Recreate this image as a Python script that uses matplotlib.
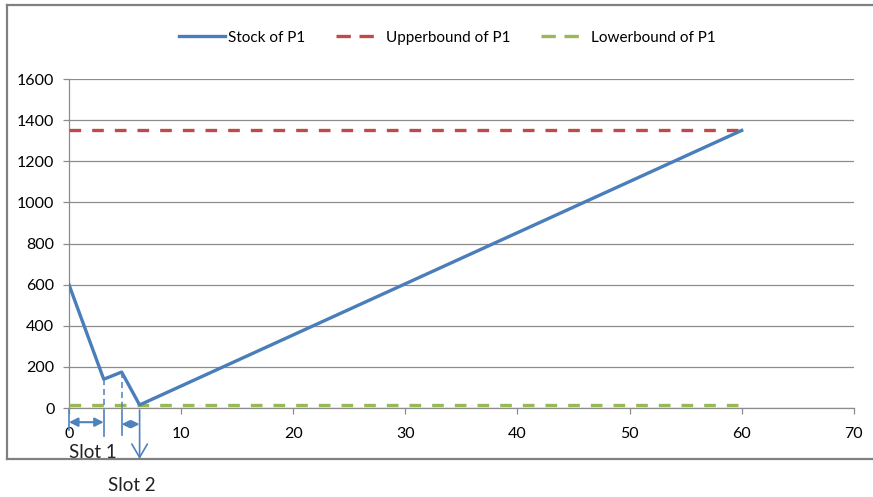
import matplotlib
matplotlib.use("Agg")
import matplotlib.pyplot as plt
from matplotlib.lines import Line2D

plt.rcParams["font.family"] = ["Lato", "DejaVu Sans"]

# data
stock_x = [0, 3.1, 4.7, 6.3, 60]
stock_y = [600, 140, 175, 15, 1350]
bound_x = [0, 60]
upper_y = [1350, 1350]
lower_y = [15, 15]
x_ticks = [0, 10, 20, 30, 40, 50, 60, 70]
y_ticks = [0, 200, 400, 600, 800, 1000, 1200, 1400, 1600]
series_labels = ["Stock of P1", "Upperbound of P1", "Lowerbound of P1"]
slot_labels = ["Slot 1", "Slot 2"]

BLUE = "#4A7EBB"
RED = "#BE4B48"
GREEN = "#98B954"
GRID = "#8C8C8C"
ANNO = "#4F81BD"

fig = plt.figure(figsize=(8.73, 4.97), dpi=100)
ax = fig.add_axes([0.079, 0.179, 0.899, 0.662])

ax.plot(stock_x, stock_y, color=BLUE, lw=2.4, solid_joinstyle="round", zorder=4)
ax.plot(bound_x, upper_y, color=RED, lw=2.4, dashes=(3.5, 3.3), zorder=3)
ax.plot(bound_x, lower_y, color=GREEN, lw=2.4, dashes=(3.5, 3.3), zorder=3)

ax.set_xlim(0, 70)
ax.set_ylim(0, 1600)
ax.set_xticks(x_ticks)
ax.set_yticks(y_ticks)
ax.grid(axis="y", color=GRID, lw=0.9)
ax.set_axisbelow(True)
for side in ("top", "right"):
    ax.spines[side].set_visible(False)
for side in ("left", "bottom"):
    ax.spines[side].set_color(GRID)
    ax.spines[side].set_linewidth(0.9)
ax.tick_params(axis="x", length=4.5, width=0.9, color=GRID, pad=9, labelsize=11.5)
ax.tick_params(axis="y", length=4.5, width=0.9, color=GRID, pad=6, labelsize=11.5)

# legend handles drawn like the spreadsheet legend: two long dashes
handles = [
    Line2D([], [], color=BLUE, lw=2.4),
    Line2D([], [], color=RED, lw=2.4, dashes=(4.3, 2.6)),
    Line2D([], [], color=GREEN, lw=2.4, dashes=(4.3, 2.6)),
]
ax.legend(handles, series_labels, loc="center", bbox_to_anchor=(0.512, 0.924),
          bbox_transform=fig.transFigure, ncol=3, frameon=False, fontsize=11,
          handlelength=3.0, handletextpad=0.25, columnspacing=2.0)

# slot annotations below the axis
xt = ax.get_xaxis_transform()
for x, y in zip(stock_x[1:3], stock_y[1:3]):
    ax.plot([x, x], [y, 0], color=ANNO, lw=1.1, dashes=(4, 2.5), zorder=5)
for x, bottom in zip(stock_x[:3], [-0.066, -0.085, -0.083]):
    ax.plot([x, x], [-0.006, bottom], transform=xt, color=ANNO, lw=1.2, clip_on=False)

ax.annotate("", xy=(stock_x[1], -0.043), xytext=(stock_x[0], -0.043), xycoords=xt,
            textcoords=xt, annotation_clip=False,
            arrowprops=dict(arrowstyle="<|-|>", color=ANNO, lw=1.5, shrinkA=0, shrinkB=0,
                            mutation_scale=13))
ax.annotate("", xy=(stock_x[3], -0.049), xytext=(stock_x[2], -0.049), xycoords=xt,
            textcoords=xt, annotation_clip=False,
            arrowprops=dict(arrowstyle="<|-|>", color=ANNO, lw=1.5, shrinkA=0, shrinkB=0,
                            mutation_scale=11))
ax.annotate("", xy=(stock_x[3], -0.155), xytext=(stock_x[3], -0.006), xycoords=xt,
            textcoords=xt, annotation_clip=False,
            arrowprops=dict(arrowstyle="->,head_length=0.6,head_width=0.35", color=ANNO,
                            lw=1.2, shrinkA=0, shrinkB=0, mutation_scale=16))

ax.text(stock_x[0], -0.134, slot_labels[0], transform=xt, ha="left", va="center",
        fontsize=13.5, color="#222222", clip_on=False)
ax.text(3.5, -0.234, slot_labels[1], transform=xt, ha="left", va="center",
        fontsize=13.5, color="#222222", clip_on=False)

# outer frame (cropped on the right)
fx0, fy_top, fy_bot = 7 / 873, 1 - 5 / 497, 1 - 459 / 497
for xs, ys in (([fx0, 1], [fy_top, fy_top]), ([fx0, 1], [fy_bot, fy_bot]),
               ([fx0, fx0], [fy_top, fy_bot])):
    fig.add_artist(Line2D(xs, ys, transform=fig.transFigure, color="#808080", lw=1.6))

fig.savefig("out.png", dpi=100, facecolor="white")
